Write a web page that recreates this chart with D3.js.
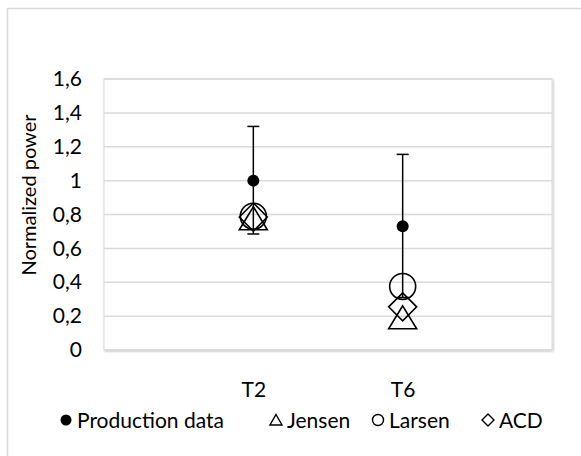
<!DOCTYPE html>
<html>
<head>
<meta charset="utf-8">
<script src="https://cdn.jsdelivr.net/npm/d3@7"></script>
<style>
  body { margin: 0; background: #fff; }
  svg text { font-family: Lato, "Open Sans", sans-serif; fill: #000; }
</style>
</head>
<body>
<div id="chart"></div>
<script>
// categories and series values
const categories = ["T2", "T6"];
const production = [1.0, 0.73];
const prodLow = [0.685, 0.31];
const prodHigh = [1.32, 1.155];
const jensen = [0.775, 0.19];
const larsen = [0.79, 0.375];
const acd = [0.785, 0.255];
const yTicks = [0, 0.2, 0.4, 0.6, 0.8, 1, 1.2, 1.4, 1.6];
const legendItems = ["Production data", "Jensen", "Larsen", "ACD"];

const W = 581, H = 456;
const margin = { top: 79, right: 29, bottom: 106, left: 104 };
const width = W - margin.left - margin.right;
const height = H - margin.top - margin.bottom;

const svg = d3.select("#chart").append("svg")
    .attr("width", W)
    .attr("height", H);

// outer chart frame
svg.append("rect")
    .attr("x", 7.5).attr("y", 8.5)
    .attr("width", W + 20).attr("height", H + 20)
    .attr("fill", "none")
    .attr("stroke", "#d9d9d9")
    .attr("stroke-width", 1.5);

const defs = svg.append("defs");
const f = defs.append("filter").attr("id", "shadow")
    .attr("x", "-5%").attr("y", "-5%").attr("width", "110%").attr("height", "110%");
f.append("feDropShadow").attr("dx", 1).attr("dy", 1).attr("stdDeviation", 1)
    .attr("flood-color", "#000").attr("flood-opacity", 0.25);

const g = svg.append("g")
    .attr("transform", `translate(${margin.left},${margin.top})`);

g.append("rect")
    .attr("width", width).attr("height", height)
    .attr("fill", "#fff")
    .attr("stroke", "#d9d9d9")
    .attr("filter", "url(#shadow)");

const x = d3.scalePoint()
    .domain(categories)
    .range([0, width])
    .padding(1);

const y = d3.scaleLinear()
    .domain([0, 1.6])
    .range([height, 0]);

const fmt = d => String(+d.toFixed(1)).replace(".", ",");

// gridlines
g.append("g")
    .selectAll("line")
    .data(yTicks)
    .enter().append("line")
    .attr("x1", 0).attr("x2", width)
    .attr("y1", d => y(d)).attr("y2", d => y(d))
    .attr("stroke", "#d9d9d9")
    .attr("stroke-width", 1.5);

// y axis labels
const yAxis = g.append("g")
    .call(d3.axisLeft(y).tickValues(yTicks).tickFormat(fmt).tickSize(0).tickPadding(22));
yAxis.select(".domain").remove();
yAxis.selectAll("text")
    .style("font-size", "21px")
    .style("font-family", "Lato, sans-serif")
    .attr("fill", "#000");

// x axis labels
const xAxis = g.append("g")
    .attr("transform", `translate(0,${height})`)
    .call(d3.axisBottom(x).tickSize(0).tickPadding(32));
xAxis.select(".domain").remove();
xAxis.selectAll("text")
    .style("font-size", "21px")
    .style("font-family", "Lato, sans-serif")
    .attr("fill", "#000");

// axis title
svg.append("text")
    .attr("transform", `translate(36,195) rotate(-90)`)
    .attr("text-anchor", "middle")
    .style("font-size", "20px")
    .text("Normalized power");

// error bars
const eb = g.append("g").attr("stroke", "#000").attr("stroke-width", 1.5);
categories.forEach((c, i) => {
    eb.append("line")
        .attr("x1", x(c)).attr("x2", x(c))
        .attr("y1", y(prodLow[i])).attr("y2", y(prodHigh[i]));
    [prodLow[i], prodHigh[i]].forEach(v => {
        eb.append("line")
            .attr("x1", x(c) - 6).attr("x2", x(c) + 6)
            .attr("y1", y(v)).attr("y2", y(v));
    });
});

// markers
function markers(values, type, filled) {
    g.append("g")
        .selectAll("path")
        .data(values)
        .enter().append("path")
        .attr("transform", (d, i) => `translate(${x(categories[i])},${y(d)})`)
        .attr("d", type)
        .attr("fill", filled ? "#000" : "none")
        .attr("stroke", "#000")
        .attr("stroke-width", filled ? 0 : 1.6);
}

const triangle = "M0,-12L14,11L-14,11Z";
const circle = d3.symbol().type(d3.symbolCircle).size(Math.PI * 13 * 13)();
const diamond = "M0,-14L14,0L0,14L-14,0Z";
const dot = d3.symbol().type(d3.symbolCircle).size(Math.PI * 6 * 6)();

markers(production, dot, true);
markers(jensen, triangle, false);
markers(larsen, circle, false);
markers(acd, diamond, false);

// legend
const legendSymbols = [
    { d: d3.symbol().type(d3.symbolCircle).size(Math.PI * 5.5 * 5.5)(), filled: true },
    { d: "M0,-5.5L6,5L-6,5Z", filled: false },
    { d: d3.symbol().type(d3.symbolCircle).size(Math.PI * 5.5 * 5.5)(), filled: false },
    { d: "M0,-6L6,0L0,6L-6,0Z", filled: false }
];
const legendX = [66, 276, 378, 488];
const legend = svg.append("g").attr("transform", "translate(0,420)");
legendItems.forEach((name, i) => {
    legend.append("path")
        .attr("transform", `translate(${legendX[i]},0)`)
        .attr("d", legendSymbols[i].d)
        .attr("fill", legendSymbols[i].filled ? "#000" : "none")
        .attr("stroke", "#000")
        .attr("stroke-width", legendSymbols[i].filled ? 0 : 1.4);
    legend.append("text")
        .attr("x", legendX[i] + 11)
        .attr("y", 7.5)
        .style("font-size", "21px")
        .text(name);
});
</script>
</body>
</html>
